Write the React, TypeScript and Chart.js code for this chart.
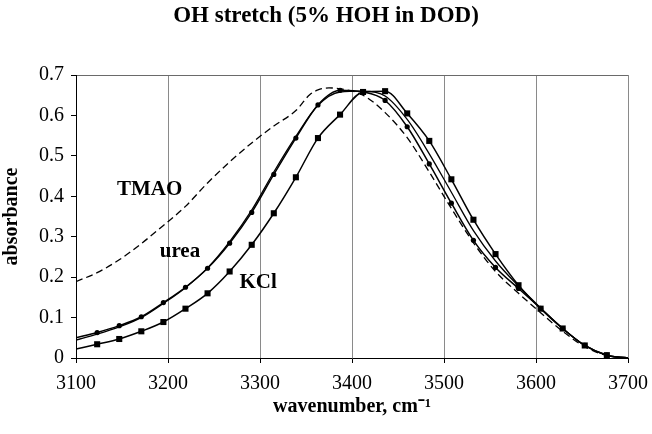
import React, { useEffect, useRef } from "react";
import { Chart, registerables } from "chart.js";

Chart.register(...registerables);

// Wavenumbers (cm-1) at which the marker curves are sampled
const wavenumbers = [3100, 3123, 3147, 3171, 3195, 3219, 3243, 3267, 3291, 3315, 3339, 3363, 3387, 3412, 3436, 3460, 3484, 3508, 3532, 3556, 3581, 3605, 3629, 3653, 3677, 3700];
const ureaValues = [0.050, 0.063, 0.080, 0.102, 0.137, 0.175, 0.222, 0.284, 0.360, 0.454, 0.544, 0.626, 0.662, 0.658, 0.637, 0.572, 0.480, 0.383, 0.291, 0.224, 0.172, 0.123, 0.073, 0.031, 0.007, 0.000];
const kclValues = [0.022, 0.034, 0.047, 0.066, 0.089, 0.122, 0.160, 0.214, 0.280, 0.358, 0.447, 0.544, 0.602, 0.658, 0.660, 0.605, 0.537, 0.442, 0.342, 0.257, 0.180, 0.122, 0.073, 0.031, 0.007, 0.000];
const waterValues = [0.044, 0.059, 0.077, 0.100, 0.135, 0.174, 0.223, 0.288, 0.366, 0.460, 0.548, 0.625, 0.658, 0.660, 0.648, 0.590, 0.505, 0.410, 0.315, 0.240, 0.178, 0.124, 0.073, 0.031, 0.007, 0.000];

// TMAO dashed curve
const tmaoWavenumbers = [3100, 3123, 3147, 3171, 3195, 3219, 3243, 3267, 3291, 3315, 3339, 3354, 3363, 3375, 3387, 3412, 3436, 3460, 3484, 3508, 3532, 3556, 3581, 3605, 3629, 3653, 3677, 3700];
const tmaoValues = [0.189, 0.211, 0.243, 0.283, 0.328, 0.375, 0.433, 0.485, 0.532, 0.574, 0.612, 0.651, 0.663, 0.668, 0.666, 0.650, 0.607, 0.545, 0.460, 0.370, 0.285, 0.214, 0.160, 0.112, 0.066, 0.028, 0.006, 0.000];

// Curve labels placed in data coordinates
const curveLabels = ["TMAO", "urea", "KCl"];
const curveLabelX = [3180, 3213, 3298];
const curveLabelY = [0.416, 0.262, 0.186];

const xTickValues = [3100, 3200, 3300, 3400, 3500, 3600, 3700];

const FONT = "'Liberation Serif', 'Times New Roman', serif";

function toPoints(xs: number[], ys: number[]) {
  return xs.map((x, i) => ({ x, y: ys[i] }));
}

const labelPlugin = {
  id: "curveLabels",
  afterDatasetsDraw(chart: any) {
    const { ctx, scales } = chart;
    ctx.save();
    ctx.fillStyle = "#000";
    ctx.font = `bold 21px ${FONT}`;
    ctx.textAlign = "center";
    ctx.textBaseline = "middle";
    curveLabels.forEach((t, i) => {
      ctx.fillText(t, scales.x.getPixelForValue(curveLabelX[i]), scales.y.getPixelForValue(curveLabelY[i]));
    });
    ctx.restore();
  },
};

export default function App() {
  const ref = useRef<HTMLCanvasElement | null>(null);

  useEffect(() => {
    if (!ref.current) return;
    const endless = (n: number, r: number) => (ctx: any) =>
      ctx.dataIndex === 0 || ctx.dataIndex === n - 1 ? 0 : r;

    const chart = new Chart(ref.current, {
      type: "line",
      data: {
        datasets: [
          {
            label: "TMAO",
            data: toPoints(tmaoWavenumbers, tmaoValues),
            borderColor: "#000",
            borderWidth: 1.3,
            borderDash: [7, 4],
            pointRadius: 0,
            cubicInterpolationMode: "monotone",
            fill: false,
          },
          {
            label: "water",
            data: toPoints(wavenumbers, waterValues),
            borderColor: "#000",
            borderWidth: 1.3,
            pointRadius: 0,
            cubicInterpolationMode: "monotone",
            fill: false,
          },
          {
            label: "urea",
            data: toPoints(wavenumbers, ureaValues),
            borderColor: "#000",
            backgroundColor: "#000",
            borderWidth: 1.5,
            pointStyle: "circle",
            pointRadius: endless(wavenumbers.length, 2.6),
            pointBorderWidth: 0,
            cubicInterpolationMode: "monotone",
            fill: false,
          },
          {
            label: "KCl",
            data: toPoints(wavenumbers, kclValues),
            borderColor: "#000",
            backgroundColor: "#000",
            borderWidth: 1.5,
            pointStyle: "rect",
            pointRadius: endless(wavenumbers.length, 4.3),
            pointBorderWidth: 0,
            cubicInterpolationMode: "monotone",
            fill: false,
          },
        ],
      },
      options: {
        responsive: false,
        animation: false,
        events: [],
        layout: { padding: 0 },
        plugins: {
          legend: { display: false },
          tooltip: { enabled: false },
          title: {
            display: true,
            text: "OH stretch (5% HOH in DOD)",
            color: "#000",
            font: { family: FONT, size: 23, weight: "bold", lineHeight: 1.2 },
            padding: { top: 2, bottom: 45.4 },
          },
        },
        scales: {
          x: {
            type: "linear",
            min: 3100,
            max: 3700,
            afterBuildTicks: (scale: any) => {
              scale.ticks = xTickValues.map((v) => ({ value: v }));
            },
            afterFit: (scale: any) => {
              scale.height = 76;
              scale.paddingLeft = 0;
              scale.paddingRight = 24;
            },
            ticks: {
              color: "#000",
              font: { family: FONT, size: 20 },
              padding: 9,
              maxRotation: 0,
              callback: (v: any) => String(v),
            },
            grid: {
              color: "#8a8a8a",
              lineWidth: 1,
              tickColor: "#000",
              tickLength: 5,
            },
            border: { display: true, color: "#000", width: 1 },
            title: {
              display: true,
              text: "wavenumber, cm⁻¹",
              color: "#000",
              font: { family: FONT, size: 20, weight: "bold", lineHeight: 1.2 },
              padding: { top: 0, bottom: 15 },
            },
          },
          y: {
            type: "linear",
            min: 0,
            max: 0.7,
            ticks: {
              stepSize: 0.1,
              color: "#000",
              font: { family: FONT, size: 20 },
              padding: 7,
              callback: (v: any) => (Math.abs(v) < 1e-9 ? "0" : Number(v).toFixed(1)),
            },
            afterFit: (scale: any) => {
              scale.width = 76;
              scale.paddingTop = 0;
              scale.paddingBottom = 0;
            },
            grid: {
              color: (ctx: any) =>
                ctx.tick && Math.abs(ctx.tick.value - 0.7) < 1e-6 ? "#6a6a6a" : "rgba(0,0,0,0)",
              lineWidth: 1,
              tickColor: "#000",
              tickLength: 5,
            },
            border: { display: true, color: "#000", width: 1 },
            title: {
              display: true,
              text: "absorbance",
              color: "#000",
              font: { family: FONT, size: 20, weight: "bold", lineHeight: 1.2 },
              padding: { top: 0, bottom: 0 },
            },
          },
        },
      },
      plugins: [labelPlugin],
    });
    return () => chart.destroy();
  }, []);

  return (
    <div style={{ position: "fixed", left: 0, top: 0, width: 652, height: 434, background: "#fff" }}>
      <canvas ref={ref} width={652} height={434} />
    </div>
  );
}
